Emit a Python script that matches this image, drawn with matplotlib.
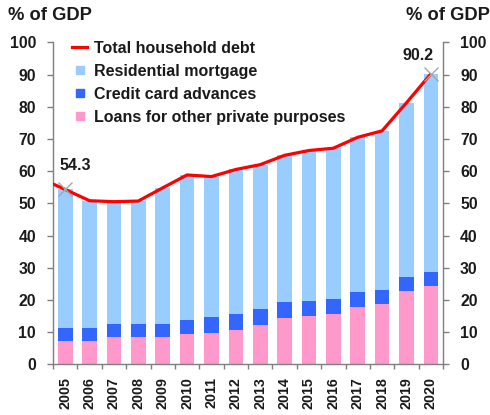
import matplotlib
matplotlib.use("Agg")
import matplotlib.pyplot as plt
from matplotlib.lines import Line2D
import numpy as np

plt.rcParams['font.family'] = ['Liberation Sans', 'DejaVu Sans']
plt.rcParams['font.weight'] = 'bold'

# Household debt components, % of GDP
years = ['2005', '2006', '2007', '2008', '2009', '2010', '2011', '2012',
         '2013', '2014', '2015', '2016', '2017', '2018', '2019', '2020']
other_loans = [7.1, 7.1, 8.4, 8.4, 8.6, 9.4, 9.7, 10.6,
               12.3, 14.4, 14.9, 15.5, 17.9, 18.7, 22.7, 24.3]
credit_card = [4.3, 4.3, 4.2, 4.0, 4.0, 4.3, 5.0, 5.0,
               5.0, 5.1, 4.8, 4.9, 4.7, 4.3, 4.3, 4.3]
mortgage = [42.9, 39.4, 37.9, 38.3, 42.2, 45.2, 43.6, 44.9,
            44.7, 45.4, 46.7, 46.7, 47.9, 49.5, 54.2, 61.6]
# total household debt series starts one year earlier (2004)
debt_years = ['2004'] + years
total_debt = [57.7, 54.3, 50.8, 50.5, 50.7, 54.8, 58.8, 58.3, 60.5,
              62.0, 64.9, 66.4, 67.1, 70.5, 72.5, 81.2, 90.2]
labelled = {'2005': 54.3, '2020': 90.2}

c_mort = '#99CCFF'
c_card = '#3366FF'
c_other = '#FF99CC'
c_line = '#FF0000'
c_axis = '#7F7F7F'
c_text = '#1A1A1A'

fig = plt.figure(figsize=(4.9, 4.15), dpi=100)
ax = fig.add_axes([53 / 490, 1 - 364.3 / 415, 390 / 490, 322 / 415])

x = np.arange(len(years))
other = np.array(other_loans)
card = np.array(credit_card)
mort = np.array(mortgage)
w = 0.6
ax.bar(x, other, w, color=c_other, zorder=2)
ax.bar(x, card, w, bottom=other, color=c_card, zorder=2)
ax.bar(x, mort, w, bottom=other + card, color=c_mort, zorder=2)

xd = np.array([years.index(y) if y in years else years.index('2005') - 1
               for y in debt_years], dtype=float)
ax.plot(xd, total_debt, color=c_line, lw=2.3, zorder=4, clip_on=True,
        solid_joinstyle='round', solid_capstyle='butt')

for yr, val in labelled.items():
    i = years.index(yr)
    ax.plot(i, val, marker='x', ms=10, mew=1.0, color='#A6A6A6', zorder=5)
dx = {'2005': 7, '2020': -9}
dy = {'2005': 17, '2020': 13}
for yr, val in labelled.items():
    i = years.index(yr)
    ax.annotate(f'{val:.1f}', xy=(i, val), xytext=(dx[yr], dy[yr]),
                textcoords='offset points', ha='center', va='center',
                fontsize=11.5, fontweight='bold', color=c_text)

ax.set_xlim(-0.5, len(years) - 0.5)
ax.set_ylim(0, 100)
ax.set_yticks(range(0, 101, 10))

ax.spines['top'].set_visible(False)
for s in ['left', 'right', 'bottom']:
    ax.spines[s].set_color(c_axis)
    ax.spines[s].set_linewidth(1.0)

ax.tick_params(axis='y', which='major', direction='out', length=4.3,
               width=1.0, color=c_axis, labelsize=11.3, pad=8.0,
               left=True, right=True, labelleft=True, labelright=True,
               labelcolor=c_text)
ax.set_xticks(x)
ax.set_xticklabels(years, rotation=90, fontsize=10.3, fontweight='bold',
                   color=c_text)
ax.set_xticks(np.arange(-0.5, len(years)), minor=True)
ax.tick_params(axis='x', which='major', length=0, pad=9)
ax.tick_params(axis='x', which='minor', direction='out', length=3.6,
               width=1.0, color=c_axis)

fig.text(8 / 490, 1 - 15 / 415, '% of GDP', ha='left', va='center',
         fontsize=13.2, fontweight='bold', color=c_text)
fig.text(490 / 490, 1 - 15 / 415, '% of GDP', ha='right', va='center',
         fontsize=13.2, fontweight='bold', color=c_text)

handles = [
    Line2D([], [], color=c_line, lw=2.3),
    Line2D([], [], color=c_mort, marker='s', ms=6, ls='none'),
    Line2D([], [], color=c_card, marker='s', ms=6, ls='none'),
    Line2D([], [], color=c_other, marker='s', ms=6, ls='none'),
]
labels = ['Total household debt', 'Residential mortgage',
          'Credit card advances', 'Loans for other private purposes']
leg = ax.legend(handles, labels, loc='upper left',
                bbox_to_anchor=(72 / 490, 1 - 41 / 415),
                bbox_transform=fig.transFigure, frameon=False,
                prop={'weight': 'bold', 'size': 11.5},
                handlelength=0.95, handletextpad=0.4, labelspacing=0.5,
                borderpad=0, borderaxespad=0, numpoints=1)
for t in leg.get_texts():
    t.set_color(c_text)

fig.savefig('out.png', dpi=100)
